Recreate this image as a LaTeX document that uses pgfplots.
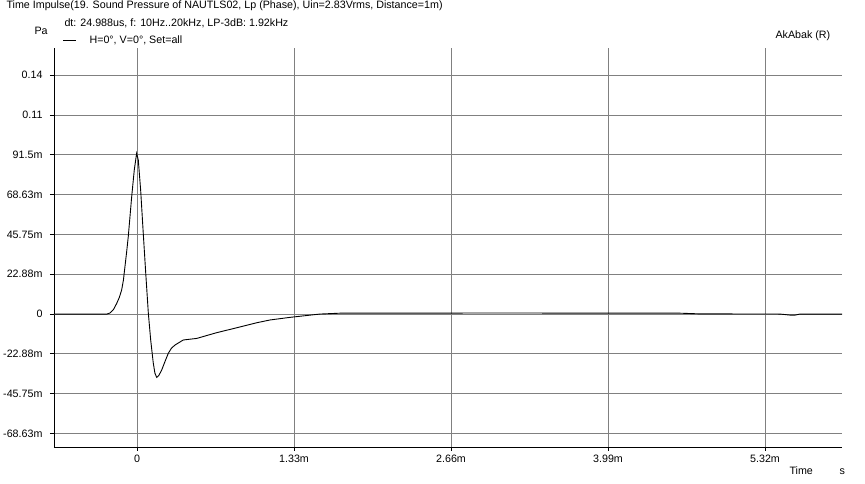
\documentclass[border=0pt]{standalone}
\usepackage{fontspec}
\setmainfont{Liberation Sans}
\usepackage{pgfplots}
\pgfplotsset{compat=1.18}
\begin{document}
\begin{tikzpicture}[x=1pt,y=1pt,font=\fontsize{10.7}{12}\selectfont]
\useasboundingbox (0,0) rectangle (865,484);
\begin{axis}[
  at={(54pt,37pt)}, anchor=south west,
  scale only axis, width=788pt, height=399pt,
  xmin=-0.703, xmax=5.972, ymin=-76.4, ymax=152.9,
  axis x line*=bottom, axis y line*=left,
  axis line style={black, line width=0.9pt, -},
  xtick={0,1.33,2.66,3.99,5.32},
  xticklabels={0,1.33m,2.66m,3.99m,5.32m},
  ytick={-68.625,-45.75,-22.875,0,22.875,45.75,68.625,91.5,114.375,137.25},
  yticklabels={-68.63m,-45.75m,-22.88m,0,22.88m,45.75m,68.63m,91.5m,0.11,0.14},
  tick align=outside, major tick length=4pt,
  tick style={black, line width=0.9pt},
  xmajorgrids, ymajorgrids,
  major grid style={gray, line width=0.9pt},
  extra x ticks={0}, extra x tick labels={},
  extra x tick style={grid style={black, line width=0.9pt}, major tick length=0pt},
  extra y ticks={0}, extra y tick labels={},
  extra y tick style={grid style={black, line width=0.9pt}, major tick length=0pt},
  yticklabel style={font=\fontsize{10.7}{12}\selectfont, xshift=-4pt},
  xticklabel style={font=\fontsize{10.7}{12}\selectfont},
  /pgf/number format/assume math mode=true,
  clip=false,
]
\addplot[black, line width=0.9pt] coordinates {
(-0.703,0) (-0.254,0) (-0.229,0.6) (-0.200,2.5) (-0.172,6.1) (-0.150,9.5) (-0.130,13.8) (-0.115,19.5) (-0.102,27.2)
(-0.088,35.5) (-0.074,44.4) (-0.060,55.5) (-0.045,67.4) (-0.023,82.8) (-0.003,92.4) (0.011,88.5)
(0.031,71.3) (0.053,46.5) (0.074,23.6) (0.096,0.6) (0.116,-14.9)
(0.138,-28.2) (0.152,-34.0) (0.167,-36.4) (0.185,-35.3) (0.209,-32.2) (0.240,-26.8) (0.265,-22.6) (0.292,-19.6) (0.322,-17.8)
(0.392,-14.9) (0.506,-14.0) (0.675,-10.7) (0.844,-7.9) (1.014,-5.0)
(1.127,-3.4) (1.296,-1.9) (1.550,0) (1.719,0.5) (3.075,0.6) (4.599,0.5)
(4.768,0.1) (5.447,0) (5.532,-0.6) (5.574,-0.6) (5.617,0) (5.972,0)
};
\end{axis}
\node[anchor=west] at (3,478) {Time Impulse(19. Sound Pressure of NAUTLS02, Lp (Phase), Uin=2.83Vrms, Distance=1m)};
\node[anchor=west] at (61,461) {dt: 24.988us, f: 10Hz..20kHz, LP-3dB: 1.92kHz};
\draw[black, line width=0.9pt] (63,444) -- (76,444);
\node[anchor=west] at (86,444) {H=0°, V=0°, Set=all};
\node[anchor=west] at (31,453) {Pa};
\node[anchor=west] at (772,448) {AkAbak (R)};
\node[anchor=west] at (786,13) {Time};
\node[anchor=west] at (836,12) {s};
\end{tikzpicture}
\end{document}
